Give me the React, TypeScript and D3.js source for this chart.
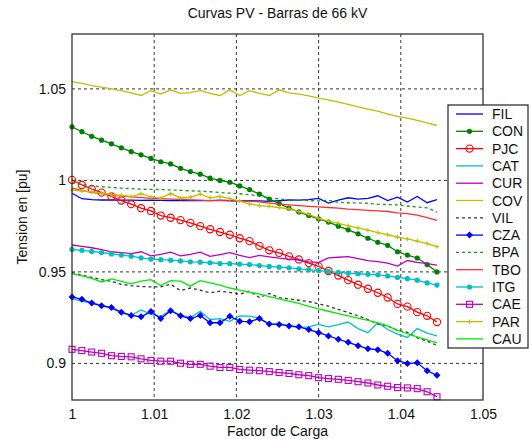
import React, { useEffect, useRef } from 'react';
import * as d3 from 'd3';

// factor de carga (eje x)
const factor = [
  1.0, 1.0012, 1.0024, 1.0036, 1.0048, 1.006, 1.0072, 1.0084, 1.0096, 1.0108, 1.012, 1.0132, 1.0144,
  1.0156, 1.0168, 1.018, 1.0192, 1.0204, 1.0216, 1.0228, 1.024, 1.0252, 1.0264, 1.0276, 1.0288, 1.03,
  1.0312, 1.0324, 1.0336, 1.0348, 1.036, 1.0372, 1.0384, 1.0396, 1.0408, 1.042, 1.0432, 1.0444,
];

const FIL = [
  0.993, 0.990, 0.9895, 0.9893, 0.9893, 0.9892, 0.9892, 0.9891, 0.9892, 0.9891, 0.989, 0.989, 0.9891,
  0.9889, 0.989, 0.9892, 0.989, 0.9888, 0.9889, 0.9888, 0.9885, 0.989, 0.9893, 0.9892, 0.9895, 0.9902,
  0.9876, 0.9892, 0.9905, 0.9898, 0.9902, 0.9916, 0.989, 0.9908, 0.9882, 0.9912, 0.9878, 0.9895,
];
const CON = [
  1.0293, 1.0266, 1.0241, 1.022, 1.02, 1.0178, 1.0157, 1.014, 1.012, 1.0102, 1.009, 1.0066, 1.0048,
  1.0034, 1.0012, 1.0, 0.999, 0.997, 0.995, 0.9925, 0.9898, 0.9874, 0.9848, 0.9828, 0.9808, 0.979,
  0.9772, 0.975, 0.973, 0.9708, 0.9684, 0.9662, 0.9645, 0.961, 0.9592, 0.9576, 0.954, 0.95,
];
const PJC = [
  1.0003, 0.9975, 0.9953, 0.9933, 0.9912, 0.989, 0.987, 0.9848, 0.9833, 0.9808, 0.9796, 0.9783, 0.9768,
  0.975, 0.9733, 0.9718, 0.9703, 0.9684, 0.9668, 0.9642, 0.9618, 0.9604, 0.9585, 0.9568, 0.9548, 0.953,
  0.9505, 0.948, 0.9455, 0.943, 0.9408, 0.9386, 0.936, 0.9325, 0.931, 0.928, 0.926, 0.9226,
];
const CAT = [
  0.9352, 0.934, 0.933, 0.9318, 0.93, 0.9278, 0.9262, 0.9292, 0.9268, 0.9256, 0.9292, 0.9262, 0.9252,
  0.9285, 0.924, 0.9245, 0.923, 0.926, 0.9258, 0.9248, 0.9213, 0.9218, 0.9205, 0.9195, 0.92, 0.9213,
  0.92, 0.9212, 0.9226, 0.919, 0.9168, 0.9222, 0.9185, 0.916, 0.9142, 0.919, 0.9165, 0.915,
];
const CUR = [
  0.9647, 0.964, 0.9632, 0.9622, 0.961, 0.9605, 0.96, 0.961, 0.9588, 0.9596, 0.9608, 0.9588, 0.9596,
  0.9608, 0.9585, 0.9595, 0.9605, 0.959, 0.9578, 0.959, 0.9582, 0.9575, 0.957, 0.9565, 0.9555, 0.9552,
  0.9577, 0.958, 0.9583, 0.9572, 0.9562, 0.9556, 0.9548, 0.9532, 0.9562, 0.9552, 0.9545, 0.9537,
];
const COV = [
  1.054, 1.053, 1.0518, 1.051, 1.05, 1.049, 1.0478, 1.0464, 1.049, 1.0472, 1.0495, 1.0476, 1.048,
  1.0492, 1.0475, 1.0464, 1.0495, 1.0464, 1.049, 1.0475, 1.0464, 1.0495, 1.0478, 1.0472, 1.0462, 1.045,
  1.044, 1.0428, 1.0415, 1.0402, 1.039, 1.0378, 1.0362, 1.035, 1.034, 1.0328, 1.0315, 1.03,
];
const VIL = [
  0.9496, 0.9482, 0.947, 0.9458, 0.9448, 0.9432, 0.9425, 0.942, 0.9418, 0.9418, 0.9432, 0.9398, 0.9412,
  0.94, 0.9385, 0.9395, 0.9388, 0.9378, 0.9395, 0.936, 0.9382, 0.936, 0.9352, 0.9345, 0.9338, 0.9325,
  0.9313, 0.9295, 0.9278, 0.926, 0.924, 0.9215, 0.9205, 0.918, 0.917, 0.914, 0.9122, 0.9098,
];
const CZA = [
  0.9363, 0.935, 0.933, 0.9315, 0.9305, 0.928, 0.9262, 0.9255, 0.9283, 0.9245, 0.9288, 0.926, 0.9245,
  0.9262, 0.9222, 0.9222, 0.9258, 0.923, 0.9228, 0.9245, 0.9215, 0.9213, 0.9205, 0.92, 0.9185, 0.9168,
  0.915, 0.9132, 0.9115, 0.9097, 0.908, 0.9075, 0.9055, 0.9015, 0.9, 0.9003, 0.896, 0.8935,
];
const BPA = [
  0.9987, 0.9978, 0.997, 0.9965, 0.9962, 0.9958, 0.9955, 0.9952, 0.9951, 0.995, 0.9948, 0.9946, 0.9943,
  0.9941, 0.9938, 0.9934, 0.993, 0.9927, 0.9922, 0.9915, 0.9906, 0.9898, 0.9894, 0.9891, 0.989, 0.9888,
  0.9892, 0.988, 0.9878, 0.9877, 0.9875, 0.9869, 0.9868, 0.9866, 0.986, 0.9855, 0.985, 0.9827,
];
const TBO = [
  0.9958, 0.9945, 0.9935, 0.9928, 0.992, 0.9914, 0.991, 0.9906, 0.9902, 0.99, 0.9898, 0.9896, 0.9894,
  0.9892, 0.989, 0.9889, 0.9888, 0.9887, 0.9887, 0.9883, 0.9876, 0.987, 0.9866, 0.9862, 0.9858, 0.9855,
  0.9852, 0.9848, 0.9843, 0.984, 0.9836, 0.9833, 0.983, 0.9822, 0.9818, 0.981, 0.9796, 0.9781,
];
const ITG = [
  0.9623, 0.9618, 0.9612, 0.9606, 0.9598, 0.9592, 0.9586, 0.9577, 0.957, 0.9567, 0.9564, 0.956, 0.9555,
  0.9553, 0.955, 0.9546, 0.9545, 0.9543, 0.954, 0.9535, 0.953, 0.9526, 0.9522, 0.9516, 0.9512, 0.9507,
  0.9502, 0.9497, 0.9493, 0.949, 0.9487, 0.9484, 0.9478, 0.947, 0.9463, 0.9455, 0.944, 0.9428,
];
const CAE = [
  0.9077, 0.907, 0.9062, 0.9055, 0.9042, 0.9038, 0.9036, 0.9025, 0.9016, 0.9012, 0.9012, 0.9001, 0.8995,
  0.8995, 0.8985, 0.8978, 0.8978, 0.8967, 0.8963, 0.896, 0.8955, 0.895, 0.8945, 0.8938, 0.8933, 0.8922,
  0.8917, 0.8913, 0.8907, 0.89, 0.8893, 0.8882, 0.8875, 0.8868, 0.8866, 0.8862, 0.8845, 0.8818,
];
const PAR = [
  0.9947, 0.9942, 0.9937, 0.993, 0.9923, 0.9918, 0.9912, 0.9928, 0.991, 0.9903, 0.9928, 0.9904, 0.9908,
  0.9925, 0.9905, 0.9912, 0.99, 0.9887, 0.9872, 0.9862, 0.9858, 0.9852, 0.9845, 0.983, 0.9815, 0.9792,
  0.9778, 0.9765, 0.9752, 0.974, 0.9728, 0.9715, 0.9703, 0.969, 0.968, 0.9668, 0.9655, 0.9638,
];
const CAU = [
  0.949, 0.9478, 0.9465, 0.9445, 0.9462, 0.9448, 0.9435, 0.945, 0.9458, 0.9425, 0.9452, 0.945, 0.9422,
  0.9452, 0.944, 0.9428, 0.9412, 0.94, 0.939, 0.9378, 0.9365, 0.9352, 0.934, 0.9328, 0.9312, 0.9298,
  0.9285, 0.9272, 0.926, 0.9248, 0.9235, 0.9222, 0.9205, 0.918, 0.9162, 0.9145, 0.9128, 0.9112,
];

const xTicks = [1, 1.01, 1.02, 1.03, 1.04, 1.05];
const yTicks = [0.9, 0.95, 1, 1.05];

const series = [
  { name: 'FIL', values: FIL, color: '#0000ff', dash: null, marker: null },
  { name: 'CON', values: CON, color: '#008000', dash: null, marker: 'dot' },
  { name: 'PJC', values: PJC, color: '#ff0000', dash: null, marker: 'circle' },
  { name: 'CAT', values: CAT, color: '#00c4c4', dash: null, marker: null },
  { name: 'CUR', values: CUR, color: '#c000c0', dash: null, marker: null },
  { name: 'COV', values: COV, color: '#bfbf00', dash: null, marker: null },
  { name: 'VIL', values: VIL, color: '#333333', dash: '3,3', marker: null },
  { name: 'CZA', values: CZA, color: '#0000ff', dash: null, marker: 'diamond' },
  { name: 'BPA', values: BPA, color: '#1a961a', dash: '3,3', marker: null },
  { name: 'TBO', values: TBO, color: '#ff3030', dash: null, marker: null },
  { name: 'ITG', values: ITG, color: '#00bfbf', dash: null, marker: 'dot' },
  { name: 'CAE', values: CAE, color: '#c000c0', dash: null, marker: 'square' },
  { name: 'PAR', values: PAR, color: '#bfbf00', dash: null, marker: 'plus' },
  { name: 'CAU', values: CAU, color: '#00ee00', dash: null, marker: null },
];

const FONT = '"Liberation Sans", Arial, Helvetica, sans-serif';

function drawMarker(g: any, kind: string | null, cx: number, cy: number, color: string) {
  if (kind === 'dot') {
    g.append('circle').attr('cx', cx).attr('cy', cy).attr('r', 2.6).attr('fill', color);
  } else if (kind === 'circle') {
    g.append('circle')
      .attr('cx', cx)
      .attr('cy', cy)
      .attr('r', 3.6)
      .attr('fill', 'none')
      .attr('stroke', color)
      .attr('stroke-width', 1.1);
  } else if (kind === 'diamond') {
    g.append('path')
      .attr('d', `M${cx},${cy - 3.5}L${cx + 3.5},${cy}L${cx},${cy + 3.5}L${cx - 3.5},${cy}Z`)
      .attr('fill', color);
  } else if (kind === 'square') {
    g.append('rect')
      .attr('x', cx - 3)
      .attr('y', cy - 3)
      .attr('width', 6)
      .attr('height', 6)
      .attr('fill', 'none')
      .attr('stroke', color)
      .attr('stroke-width', 1.1);
  } else if (kind === 'plus') {
    g.append('path')
      .attr('d', `M${cx - 2.2},${cy}H${cx + 2.2}M${cx},${cy - 2.2}V${cy + 2.2}`)
      .attr('stroke', color)
      .attr('stroke-width', 1.1);
  }
}

function App() {
  const svgRef = useRef<SVGSVGElement>(null);

  useEffect(() => {
    const svg = d3.select(svgRef.current);
    svg.selectAll('*').remove();

    const width = 531,
      height = 439;
    const plot = { left: 72, right: 483, top: 34, bottom: 400 };

    const x = d3.scaleLinear().domain([1, 1.05]).range([plot.left, plot.right]);
    const y = d3.scaleLinear().domain([0.88, 1.08]).range([plot.bottom, plot.top]);

    svg.append('rect').attr('width', width).attr('height', height).attr('fill', '#fff');

    // grid
    const grid = svg.append('g');
    xTicks.slice(1, -1).forEach((t) => {
      grid
        .append('line')
        .attr('x1', x(t))
        .attr('x2', x(t))
        .attr('y1', plot.top)
        .attr('y2', plot.bottom)
        .attr('stroke', '#333')
        .attr('stroke-dasharray', '3,3');
    });
    yTicks.forEach((t) => {
      grid
        .append('line')
        .attr('x1', plot.left)
        .attr('x2', plot.right)
        .attr('y1', y(t))
        .attr('y2', y(t))
        .attr('stroke', '#333')
        .attr('stroke-dasharray', '3,3');
    });

    // axes
    const xAxis = svg
      .append('g')
      .attr('transform', `translate(0,${plot.bottom})`)
      .call(
        d3
          .axisBottom(x)
          .tickValues(xTicks)
          .tickSize(0)
          .tickPadding(9)
          .tickFormat((d: any) => String(+(+d).toFixed(2)))
      );
    const yAxis = svg
      .append('g')
      .attr('transform', `translate(${plot.left},0)`)
      .call(
        d3
          .axisLeft(y)
          .tickValues(yTicks)
          .tickSize(0)
          .tickPadding(6)
          .tickFormat((d: any) => String(+(+d).toFixed(2)))
      );
    [xAxis, yAxis].forEach((a) => {
      a.select('.domain').remove();
      a.selectAll('text').attr('font-family', FONT).attr('font-size', 14).attr('fill', '#111');
    });

    // series
    const line = d3
      .line<number>()
      .x((d, i) => x(factor[i]))
      .y((d) => y(d));
    series.forEach((s) => {
      const g = svg.append('g');
      g.append('path')
        .attr('d', line(s.values))
        .attr('fill', 'none')
        .attr('stroke', s.color)
        .attr('stroke-width', 1.3)
        .attr('stroke-dasharray', s.dash);
      if (s.marker) {
        s.values.forEach((v, i) => drawMarker(g, s.marker, x(factor[i]), y(v), s.color));
      }
    });

    // box
    svg
      .append('rect')
      .attr('x', plot.left)
      .attr('y', plot.top)
      .attr('width', plot.right - plot.left)
      .attr('height', plot.bottom - plot.top)
      .attr('fill', 'none')
      .attr('stroke', '#222')
      .attr('stroke-width', 1.2);

    // legend
    const legend = svg.append('g');
    legend
      .append('rect')
      .attr('x', 448)
      .attr('y', 105)
      .attr('width', 80)
      .attr('height', 243)
      .attr('fill', '#fff')
      .attr('stroke', '#222')
      .attr('stroke-width', 1.2);
    series.forEach((s, i) => {
      const ly = 114 + i * 17.3;
      legend
        .append('line')
        .attr('x1', 456)
        .attr('x2', 483)
        .attr('y1', ly)
        .attr('y2', ly)
        .attr('stroke', s.color)
        .attr('stroke-width', 1.3)
        .attr('stroke-dasharray', s.dash);
      if (s.marker) drawMarker(legend, s.marker, 469.5, ly, s.color);
      legend
        .append('text')
        .attr('x', 492)
        .attr('y', ly)
        .attr('dy', '0.36em')
        .attr('font-family', FONT)
        .attr('font-size', 14)
        .attr('fill', '#111')
        .text(s.name);
    });

    // labels
    svg
      .append('text')
      .attr('x', (plot.left + plot.right) / 2)
      .attr('y', 18)
      .attr('text-anchor', 'middle')
      .attr('font-family', FONT)
      .attr('font-size', 14)
      .attr('fill', '#111')
      .text('Curvas PV - Barras de 66 kV');
    svg
      .append('text')
      .attr('x', (plot.left + plot.right) / 2)
      .attr('y', 436)
      .attr('text-anchor', 'middle')
      .attr('font-family', FONT)
      .attr('font-size', 14)
      .attr('fill', '#111')
      .text('Factor de Carga');
    svg
      .append('text')
      .attr('transform', 'rotate(-90)')
      .attr('x', -(plot.top + plot.bottom) / 2)
      .attr('y', 27)
      .attr('text-anchor', 'middle')
      .attr('font-family', FONT)
      .attr('font-size', 14)
      .attr('fill', '#111')
      .text('Tension en [pu]');
  }, []);

  return (
    <svg
      ref={svgRef}
      width={531}
      height={439}
      style={{ position: 'absolute', left: 0, top: 0, display: 'block' }}
    />
  );
}

export default App;
